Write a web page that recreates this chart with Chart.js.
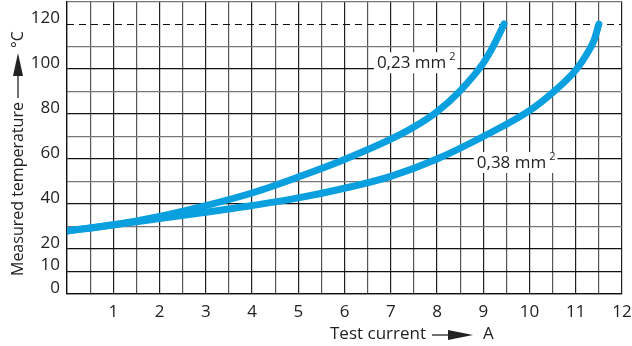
<!DOCTYPE html>
<html>
<head>
<meta charset="utf-8">
<script src="https://cdn.jsdelivr.net/npm/chart.js@4"></script>
<style>
  html, body { margin: 0; padding: 0; background: #fff; }
  #wrap { width: 632px; height: 346px; }
</style>
</head>
<body>
<div id="wrap"><canvas id="tempChart"></canvas></div>
<script>
// Measured temperature vs. test current, two wire cross sections

const current023 = [0, 1, 2, 3, 4, 5, 6, 7, 7.5, 8, 8.5, 9, 9.25, 9.45];
const temp023    = [28, 30.7, 34.5, 39.3, 44.9, 52, 59.8, 68.8, 74.2, 81, 90.3, 102.6, 111.5, 120];

const current038 = [0, 1, 2, 3, 4, 5, 6, 7, 8, 9, 10, 10.5, 11, 11.25, 11.4, 11.5];
const temp038    = [28, 30.8, 33.5, 36.3, 39.3, 42.7, 47, 52.3, 60, 70, 81.5, 89.5, 99.5, 107, 113, 120];

const xTickLabels = [1, 2, 3, 4, 5, 6, 7, 8, 9, 10, 11, 12];
const yTickLabels = [0, 10, 20, 40, 60, 80, 100, 120];
const limitTemp = 120;

const FONT = "'Open Sans', 'Liberation Sans', sans-serif";
const TEXT = "#222";
const BLUE = "#0aa0e0";

const toPoints = (xs, ys) => xs.map((x, i) => ({ x, y: ys[i] }));

function drawCurveLabel(ctx, x, y, txt) {
  ctx.font = "17px " + FONT;
  const w = ctx.measureText(txt).width;
  ctx.font = "11px " + FONT;
  const ws = ctx.measureText("2").width;
  ctx.fillStyle = "#fff";
  ctx.fillRect(x - 3, y - 10, w + ws + 8, 21);
  ctx.fillStyle = TEXT;
  ctx.textBaseline = "middle";
  ctx.textAlign = "left";
  ctx.font = "17px " + FONT;
  ctx.fillText(txt, x, y + 1);
  ctx.font = "11px " + FONT;
  ctx.fillText("2", x + w + 3, y - 5);
}

const overlay = {
  id: "overlay",
  beforeDatasetsDraw(chart) {
    const { ctx, chartArea, scales: { x, y } } = chart;
    const yl = Math.round(y.getPixelForValue(limitTemp)) + 0.5;
    ctx.save();
    ctx.strokeStyle = "#111";
    ctx.lineWidth = 1;
    ctx.setLineDash([7, 5]);
    ctx.beginPath();
    ctx.moveTo(chartArea.left, yl);
    ctx.lineTo(chartArea.right, yl);
    ctx.stroke();
    ctx.setLineDash([]);

    drawCurveLabel(ctx, x.getPixelForValue(6.7), y.getPixelForValue(103), "0,23 mm");
    drawCurveLabel(ctx, x.getPixelForValue(8.86), y.getPixelForValue(58.7), "0,38 mm");
    ctx.restore();
  },
  afterDraw(chart) {
    const ctx = chart.ctx;
    ctx.save();
    ctx.fillStyle = TEXT;
    ctx.strokeStyle = TEXT;
    ctx.lineWidth = 1.3;
    ctx.font = "17px " + FONT;
    ctx.textBaseline = "middle";
    ctx.textAlign = "left";

    // x title: "Test current ——► A"
    const xt = "Test current";
    const tx = 330, ty = 334;
    ctx.fillText(xt, tx, ty);
    let p = tx + ctx.measureText(xt).width + 6;
    ctx.beginPath();
    ctx.moveTo(p, ty + 1);
    ctx.lineTo(p + 20, ty + 1);
    ctx.stroke();
    ctx.beginPath();
    ctx.moveTo(p + 16, ty - 4);
    ctx.lineTo(p + 41, ty + 1);
    ctx.lineTo(p + 16, ty + 6);
    ctx.closePath();
    ctx.fill();
    ctx.fillText("A", p + 51, ty);

    // y title, rotated: "Measured temperature ——► °C"
    ctx.font = "16px " + FONT;
    ctx.translate(18, 276);
    ctx.rotate(-Math.PI / 2);
    const yt = "Measured temperature";
    ctx.fillText(yt, 0, 0);
    p = ctx.measureText(yt).width + 4;
    ctx.beginPath();
    ctx.moveTo(p, 0);
    ctx.lineTo(p + 26, 0);
    ctx.stroke();
    ctx.beginPath();
    ctx.moveTo(p + 22, -5);
    ctx.lineTo(p + 45, 0);
    ctx.lineTo(p + 22, 5);
    ctx.closePath();
    ctx.fill();
    ctx.fillText("°C", p + 50, 0);
    ctx.restore();
  }
};

function initChart() {
  const ctx = document.getElementById("tempChart").getContext("2d");

  const curve = (label, pts) => ({
    label,
    data: pts,
    borderColor: BLUE,
    borderWidth: 7,
    borderCapStyle: "round",
    borderJoinStyle: "round",
    cubicInterpolationMode: "monotone",
    pointRadius: 0,
    fill: false,
    clip: 0
  });

  new Chart(ctx, {
    type: "line",
    data: {
      datasets: [
        curve("0,23 mm²", toPoints(current023, temp023)),
        curve("0,38 mm²", toPoints(current038, temp038))
      ]
    },
    options: {
      animation: false,
      responsive: true,
      maintainAspectRatio: false,
      layout: { padding: { top: 1.5, right: 10, left: 0, bottom: 0 } },
      plugins: { legend: { display: false }, tooltip: { enabled: false } },
      scales: {
        x: {
          type: "linear",
          min: 0,
          max: 12,
          afterFit: (s) => {
            s.height = 52;
            s.paddingLeft = 0;
            s.paddingRight = 0;
          },
          border: { color: "#111", width: 1.3 },
          grid: {
            drawTicks: false,
            lineWidth: 1.2,
            color: (c) => Number.isInteger(c.tick.value) ? "#222" : "#555"
          },
          ticks: {
            stepSize: 0.5,
            maxTicksLimit: 40,
            autoSkip: false,
            maxRotation: 0,
            padding: 8,
            color: TEXT,
            font: { family: FONT, size: 17 },
            callback: (v) => xTickLabels.includes(v) ? String(v) : ""
          }
        },
        y: {
          min: 0,
          max: 130,
          afterFit: (s) => {
            s.width = 67;
            s.paddingTop = 0;
            s.paddingBottom = 0;
          },
          border: { color: "#111", width: 1.3 },
          grid: {
            drawTicks: false,
            lineWidth: 1.2,
            color: (c) => {
              const v = c.tick.value;
              if (v === limitTemp) return "rgba(0,0,0,0)";
              return yTickLabels.includes(v) ? "#111" : "#777";
            }
          },
          ticks: {
            stepSize: 10,
            maxTicksLimit: 40,
            autoSkip: false,
            padding: 7,
            labelOffset: -6,
            color: TEXT,
            font: { family: FONT, size: 17 },
            callback: (v) => yTickLabels.includes(v) ? String(v) : ""
          }
        }
      }
    },
    plugins: [overlay]
  });
}

window.addEventListener("load", initChart);
</script>
</body>
</html>
